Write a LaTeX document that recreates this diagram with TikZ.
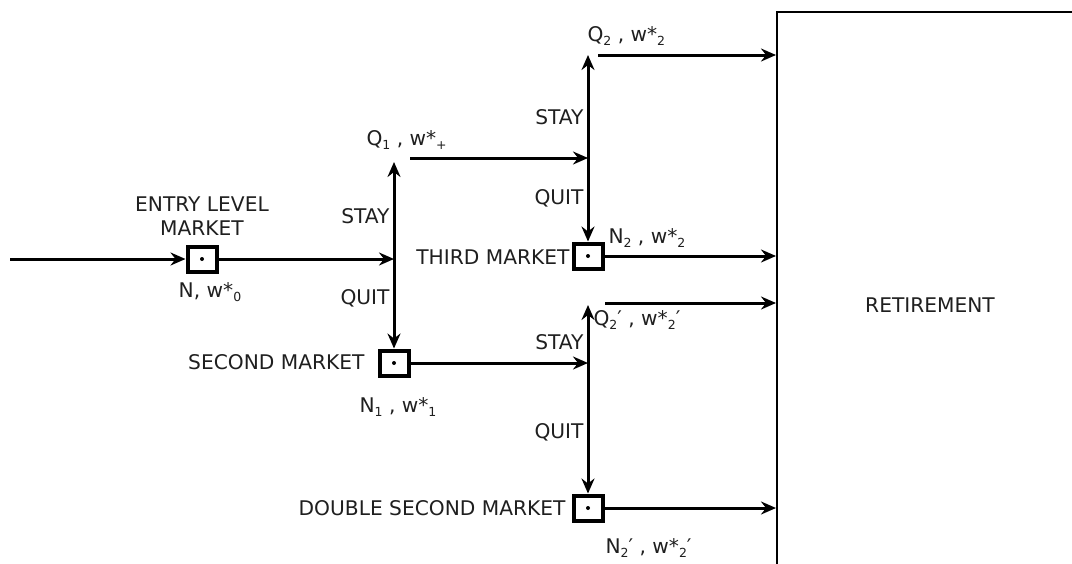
\documentclass[tikz,border=0pt]{standalone}
\usepackage{fontspec}
\setmainfont{DejaVu Sans}
\usetikzlibrary{arrows.meta}
\newcommand{\lsub}[1]{\raisebox{-4.5pt}{\fontsize{12.5}{12.5}\selectfont #1}}
\begin{document}
\begin{tikzpicture}[x=1pt,y=-1pt,line width=3pt,
  arr/.style={-{Stealth[length=15pt,width=13pt,inset=5pt]}},
  mbox/.style={draw,line width=4pt,minimum width=29pt,minimum height=25pt,inner sep=0pt},
  lbl/.style={font=\fontsize{20.2}{24}\selectfont,inner sep=0pt,text=black!88}]
\clip (0,0) rectangle (1072,563);
% retirement box
\node[draw,line width=1.8pt,minimum width=340pt,minimum height=600pt,anchor=north west,inner sep=0pt] (ret) at (776,11) {};
\node[lbl] (rettxt) at (930,305) {RETIREMENT};
% market boxes
\node[mbox] (b1) at (202,259) {};
\node[mbox] (b2) at (394,363) {};
\node[mbox] (b3) at (588,256) {};
\node[mbox] (b4) at (588,508) {};
\foreach \b in {b1,b2,b3,b4} \fill (\b.center) circle (2pt);
% coordinates
\coordinate (in) at (10,259);
\coordinate (j1) at (394,259);
\coordinate (t1) at (394,162);
\coordinate (q1s) at (410,158);
\coordinate (j2) at (588,158);
\coordinate (t2) at (588,55);
\coordinate (q2s) at (598,55);
\coordinate (j3) at (588,363);
\coordinate (t3) at (588,305);
\coordinate (q3s) at (605,303);
% connectors
\draw[arr] (in) -- (b1.west);
\draw[arr] (b1.east) -- (j1);
\draw[arr] (j1) -- (t1);
\draw[arr] (j1) -- (b2.north);
\draw[arr] (q1s) -- (j2);
\draw[arr] (j2) -- (t2);
\draw[arr] (j2) -- (b3.north);
\draw[arr] (b2.east) -- (j3);
\draw[arr] (j3) -- (t3);
\draw[arr] (j3) -- (b4.north);
\draw[arr] (q2s) -- (q2s -| ret.west);
\draw[arr] (b3.east) -- (b3 -| ret.west);
\draw[arr] (q3s) -- (q3s -| ret.west);
\draw[arr] (b4.east) -- (b4 -| ret.west);
% labels
\node[lbl,align=center] (l1) at (202,216) {ENTRY LEVEL\\MARKET};
\node[lbl] (l1b) at (210,292) {N, w*\lsub{0}};
\node[lbl,anchor=east] (s1) at (391,216) {STAY};
\node[lbl,anchor=east] (u1) at (391,298) {QUIT};
\node[lbl,anchor=west] (q1) at (365,140) {Q\lsub{1} , w*\lsub{+}};
\node[lbl,anchor=east] (l2) at (366,362) {SECOND MARKET};
\node[lbl] (l2b) at (398,407) {N\lsub{1} , w*\lsub{1}};
\node[lbl,anchor=east] (s2) at (585,117) {STAY};
\node[lbl,anchor=east] (u2) at (585,198) {QUIT};
\node[lbl,anchor=west] (q2) at (586,36) {Q\lsub{2} , w*\lsub{2}};
\node[lbl,anchor=east] (l3) at (571,257) {THIRD MARKET};
\node[lbl,anchor=west] (l3b) at (607,238) {N\lsub{2} , w*\lsub{2}};
\node[lbl,anchor=west] (q3) at (592,320) {Q\lsub{2}′ , w*\lsub{2}′};
\node[lbl,anchor=east] (s3) at (585,342) {STAY};
\node[lbl,anchor=east] (u3) at (585,432) {QUIT};
\node[lbl,anchor=east] (l4) at (567,508) {DOUBLE SECOND MARKET};
\node[lbl,anchor=west] (l4b) at (604,548) {N\lsub{2}′ , w*\lsub{2}′};
\end{tikzpicture}
\end{document}
